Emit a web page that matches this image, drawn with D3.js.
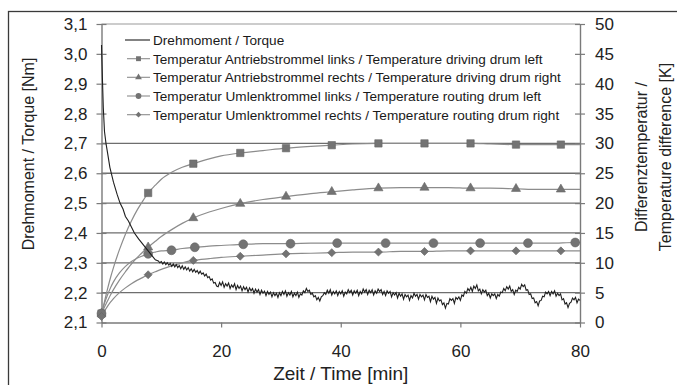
<!DOCTYPE html>
<html><head><meta charset="utf-8">
<script src="https://cdn.jsdelivr.net/npm/d3@7"></script>
<style>
html,body{margin:0;padding:0;background:#fff;}
svg{display:block;font-family:"Liberation Sans",Arial,sans-serif;}
</style></head>
<body><svg id="c" width="677" height="385"></svg>
<script>
// ---------- DATA ----------
const xTicks = [0, 20, 40, 60, 80];
const leftTicks = [2.1, 2.2, 2.3, 2.4, 2.5, 2.6, 2.7, 2.8, 2.9, 3.0, 3.1];
const rightTicks = [0, 5, 10, 15, 20, 25, 30, 35, 40, 45, 50];
const gridValues = [2.2, 2.3, 2.4, 2.5, 2.6, 2.7];

// torque: start-up phase (irregular times)
const torqueStartT = [0, 0.15, 0.3, 0.5, 0.75, 1.0, 1.4, 2.0, 2.6, 3.1, 3.6, 4.0, 4.5, 5.0, 5.5, 6.2, 7.0, 7.8, 8.4, 9.0];
const torqueStartV = [3.03, 2.92, 2.82, 2.74, 2.70, 2.67, 2.62, 2.57, 2.53, 2.50, 2.48, 2.455, 2.44, 2.42, 2.40, 2.38, 2.36, 2.34, 2.325, 2.31];
// torque: sampled readings every 0.25 min from 9.5 min to 80 min
const torqueSampleStart = 9.5, torqueSampleStep = 0.25;
const torqueSampled = [
  2.306, 2.300, 2.304, 2.296, 2.303, 2.294, 2.300, 2.292, 2.298, 2.288, 2.296, 2.286, 2.294, 2.284, 2.291, 2.280, 2.290, 2.278, 2.286, 2.276,
  2.284, 2.272, 2.280, 2.270, 2.278, 2.268, 2.274, 2.264, 2.272, 2.262, 2.266, 2.256, 2.262, 2.250, 2.254, 2.242, 2.246, 2.232, 2.234, 2.222,
  2.220, 2.234, 2.224, 2.236, 2.218, 2.230, 2.222, 2.232, 2.214, 2.226, 2.218, 2.230, 2.210, 2.224, 2.214, 2.222, 2.206, 2.220, 2.210, 2.218,
  2.202, 2.216, 2.206, 2.214, 2.198, 2.212, 2.202, 2.210, 2.194, 2.208, 2.198, 2.205, 2.190, 2.204, 2.194, 2.202, 2.186, 2.200, 2.190, 2.198,
  2.184, 2.200, 2.190, 2.204, 2.194, 2.206, 2.188, 2.200, 2.192, 2.204, 2.186, 2.198, 2.190, 2.202, 2.184, 2.196, 2.192, 2.206, 2.200, 2.214,
  2.204, 2.208, 2.194, 2.198, 2.186, 2.190, 2.176, 2.184, 2.172, 2.186, 2.190, 2.200, 2.194, 2.208, 2.198, 2.210, 2.192, 2.204, 2.196, 2.206,
  2.190, 2.204, 2.196, 2.206, 2.188, 2.202, 2.196, 2.210, 2.200, 2.208, 2.192, 2.206, 2.198, 2.208, 2.190, 2.204, 2.196, 2.212, 2.202, 2.210,
  2.194, 2.208, 2.200, 2.210, 2.192, 2.206, 2.198, 2.212, 2.204, 2.210, 2.194, 2.204, 2.190, 2.206, 2.198, 2.204, 2.186, 2.200, 2.192, 2.200,
  2.182, 2.198, 2.188, 2.196, 2.178, 2.194, 2.186, 2.192, 2.174, 2.190, 2.182, 2.198, 2.188, 2.194, 2.178, 2.194, 2.186, 2.192, 2.176, 2.194,
  2.184, 2.188, 2.170, 2.188, 2.178, 2.184, 2.164, 2.182, 2.172, 2.176, 2.160, 2.166, 2.148, 2.164, 2.162, 2.180, 2.174, 2.180, 2.164, 2.184,
  2.178, 2.186, 2.174, 2.192, 2.188, 2.204, 2.198, 2.214, 2.206, 2.218, 2.204, 2.222, 2.214, 2.226, 2.206, 2.212, 2.196, 2.210, 2.202, 2.208,
  2.190, 2.198, 2.182, 2.196, 2.190, 2.196, 2.180, 2.194, 2.188, 2.202, 2.200, 2.214, 2.206, 2.220, 2.212, 2.222, 2.204, 2.210, 2.194, 2.208,
  2.204, 2.218, 2.212, 2.228, 2.220, 2.226, 2.208, 2.210, 2.194, 2.196, 2.180, 2.182, 2.166, 2.170, 2.156, 2.172, 2.174, 2.188, 2.186, 2.202,
  2.196, 2.204, 2.190, 2.204, 2.196, 2.206, 2.188, 2.198, 2.190, 2.196, 2.176, 2.180, 2.162, 2.166, 2.150, 2.164, 2.168, 2.182, 2.176, 2.184,
  2.166, 2.178, 2.174];

// Temperatur Antriebstrommel links (square)
const drivingLeftT = [0, 0.5, 1, 1.5, 2, 3, 4, 5, 6, 7, 7.8, 9, 10, 11.8, 13.5, 15.35, 18, 20, 23.2, 27, 30.85, 35, 38.5, 42, 46.3, 50, 54, 58, 61.7, 65, 69.3, 73, 76.8, 80];
const drivingLeftK = [1.5, 3.5, 5.6, 7.5, 9.2, 12.2, 14.8, 17.0, 18.9, 20.5, 21.7, 23.0, 24.0, 25.2, 26.0, 26.6, 27.4, 27.9, 28.4, 28.8, 29.2, 29.5, 29.7, 29.9, 30.0, 30.0, 30.0, 30.0, 30.0, 29.9, 29.8, 29.8, 29.8, 29.8];
const drivingLeftMarks = [0, 7.8, 15.35, 23.2, 30.85, 38.5, 46.3, 54, 61.7, 69.3, 76.8];

// Temperatur Antriebstrommel rechts (triangle)
const drivingRightT = drivingLeftT;
const drivingRightK = [1.5, 2.6, 3.6, 4.6, 5.5, 7.1, 8.5, 9.8, 10.9, 11.9, 12.6, 13.6, 14.4, 15.6, 16.6, 17.5, 18.5, 19.1, 19.9, 20.6, 21.1, 21.6, 21.9, 22.2, 22.5, 22.6, 22.6, 22.6, 22.5, 22.5, 22.4, 22.3, 22.3, 22.3];
const drivingRightMarks = [0, 7.8, 15.35, 23.2, 30.85, 38.5, 46.3, 54, 61.7, 69.3, 76.8];

// Temperatur Umlenktrommel links (circle)
const routingLeftT = [0, 0.5, 1, 1.5, 2, 3, 4, 5, 6, 7, 7.8, 9, 10, 11.7, 13.5, 15.6, 18, 20, 23.7, 27, 31.6, 35, 39.4, 43, 47.5, 51, 55.5, 59, 63.3, 67, 71.3, 75, 79.2, 80];
const routingLeftK = [1.5, 3.2, 4.6, 5.8, 6.8, 8.3, 9.4, 10.2, 10.8, 11.2, 11.5, 11.8, 12.0, 12.1, 12.4, 12.6, 12.8, 12.9, 13.1, 13.2, 13.2, 13.3, 13.3, 13.3, 13.3, 13.3, 13.3, 13.3, 13.3, 13.3, 13.3, 13.3, 13.4, 13.4];
const routingLeftMarks = [0, 7.8, 11.7, 15.6, 23.7, 31.6, 39.4, 47.5, 55.5, 63.3, 71.3, 79.2];

// Temperatur Umlenktrommel rechts (diamond)
const routingRightT = drivingLeftT;
const routingRightK = [1.0, 1.9, 2.7, 3.4, 4.0, 5.0, 5.8, 6.5, 7.1, 7.6, 8.0, 8.5, 8.9, 9.5, 10.0, 10.4, 10.7, 10.9, 11.1, 11.3, 11.5, 11.6, 11.7, 11.8, 11.8, 11.9, 11.9, 12.0, 12.0, 12.0, 12.0, 12.0, 12.0, 12.0];
const routingRightMarks = [0, 7.8, 15.35, 23.2, 30.85, 38.5, 46.3, 54, 61.7, 69.3, 76.8];

const legendLabels = [
  "Drehmoment / Torque",
  "Temperatur Antriebstrommel links / Temperature driving drum left",
  "Temperatur Antriebstrommel rechts / Temperature driving drum right",
  "Temperatur Umlenktrommel links / Temperature routing drum left",
  "Temperatur Umlenktrommel rechts / Temperature routing drum right"
];
const xTitle = "Zeit / Time [min]";
const yLeftTitle = "Drehmoment / Torque [Nm]";
const yRightTitle = ["Differenztemperatur /", "Temperature difference [K]"];

// ---------- CHART ----------
const svg = d3.select("#c");
const x = d3.scaleLinear().domain([0, 80]).range([101.5, 580]);
const yL = d3.scaleLinear().domain([2.1, 3.1]).range([322.5, 24]);
const yR = d3.scaleLinear().domain([0, 50]).range([322.5, 24]);

const axisCol = "#7a7a7a", gridCol = "#6e6e6e", serCol = "#8c8c8c", markCol = "#737373";

// outer frame
svg.append("rect").attr("x", 8.5).attr("y", 11.5).attr("width", 700).attr("height", 400)
  .attr("fill", "none").attr("stroke", "#3a3a3a").attr("stroke-width", 1.3);

// grid
svg.append("g").selectAll("line").data(gridValues).join("line")
  .attr("x1", x(0)).attr("x2", x(80)).attr("y1", d => yL(d)).attr("y2", d => yL(d))
  .attr("stroke", gridCol).attr("stroke-width", 1.3);

// top border
svg.append("line").attr("x1", x(0)).attr("x2", x(80)).attr("y1", yL(3.1)).attr("y2", yL(3.1))
  .attr("stroke", "#999").attr("stroke-width", 1.2);

const fmt = d => d3.format(".1f")(d).replace(".", ",");
const fs = 17;

const gL = svg.append("g").attr("transform", `translate(${x(0)},0)`)
  .call(d3.axisLeft(yL).tickValues(leftTicks).tickFormat(fmt).tickSizeInner(5).tickSizeOuter(0).tickPadding(9));
const gR = svg.append("g").attr("transform", `translate(${x(80)},0)`)
  .call(d3.axisRight(yR).tickValues(rightTicks).tickFormat(d3.format("d")).tickSizeInner(5).tickSizeOuter(0).tickPadding(10));
const gB = svg.append("g").attr("transform", `translate(0,${yL(2.1)})`)
  .call(d3.axisBottom(x).tickValues(xTicks).tickFormat(d3.format("d")).tickSizeInner(5).tickSizeOuter(0).tickPadding(17));

[gL, gR].forEach(g => g.selectAll(".tick line").attr("x1", -5).attr("x2", 5));
[gL, gR, gB].forEach(g => {
  g.select(".domain").attr("stroke", axisCol).attr("stroke-width", 1.4);
  g.selectAll(".tick line").attr("stroke", axisCol).attr("stroke-width", 1.2);
  g.selectAll(".tick text").attr("fill", "#222").attr("font-size", fs).attr("font-family", "Liberation Sans, Arial, sans-serif");
});

// series
const lineK = d3.line().x(d => x(d[0])).y(d => yR(d[1])).curve(d3.curveMonotoneX);
const series = [
  {t: drivingLeftT, v: drivingLeftK, m: drivingLeftMarks, sym: d3.symbolSquare, size: 54, rot: 0},
  {t: drivingRightT, v: drivingRightK, m: drivingRightMarks, sym: d3.symbolTriangle, size: 36, rot: 0},
  {t: routingLeftT, v: routingLeftK, m: routingLeftMarks, sym: d3.symbolCircle, size: 62, rot: 0},
  {t: routingRightT, v: routingRightK, m: routingRightMarks, sym: d3.symbolSquare, size: 32, rot: 45}
];
series.forEach(s => {
  const pts = s.t.map((t, i) => [t, s.v[i]]);
  svg.append("path").datum(pts).attr("d", lineK).attr("fill", "none")
    .attr("stroke", serCol).attr("stroke-width", 1.2);
});
series.forEach(s => {
  const pts = s.t.map((t, i) => [t, s.v[i]]).filter(p => s.m.includes(p[0]));
  svg.append("g").selectAll("path").data(pts).join("path")
    .attr("transform", d => `translate(${x(d[0])},${yR(d[1])}) rotate(${s.rot})`)
    .attr("d", d3.symbol(s.sym, s.size)).attr("fill", markCol).attr("stroke", "#666").attr("stroke-width", 0.6);
});

// torque
const torquePts = torqueStartT.map((t, i) => [t, torqueStartV[i]])
  .concat(torqueSampled.map((v, i) => [torqueSampleStart + i * torqueSampleStep, v]));
svg.append("path").datum(torquePts)
  .attr("d", d3.line().x(d => x(d[0])).y(d => yL(d[1])))
  .attr("fill", "none").attr("stroke", "#1e1e1e").attr("stroke-width", 1.1);

// titles
svg.append("text").attr("x", x(40)).attr("y", 380).attr("text-anchor", "middle")
  .attr("font-size", 19).attr("fill", "#222").text(xTitle);
svg.append("text").attr("transform", "translate(33.5,154) rotate(-90)").attr("text-anchor", "middle")
  .attr("font-size", 16).attr("fill", "#222").text(yLeftTitle);
svg.append("text").attr("transform", "translate(647,157) rotate(-90)").attr("text-anchor", "middle")
  .attr("font-size", 16).attr("fill", "#222").text(yRightTitle[0]);
svg.append("text").attr("transform", "translate(671,157) rotate(-90)").attr("text-anchor", "middle")
  .attr("font-size", 16).attr("fill", "#222").text(yRightTitle[1]);

// legend
const legY = [40, 58.7, 77.3, 96, 114.7];
const legSyms = [null, [d3.symbolSquare, 24, 0], [d3.symbolTriangle, 20, 0], [d3.symbolCircle, 26, 0], [d3.symbolSquare, 16, 45]];
const leg = svg.append("g");
legendLabels.forEach((lab, i) => {
  const y = legY[i];
  leg.append("line").attr("x1", i === 0 ? 125 : 127).attr("x2", 150).attr("y1", y).attr("y2", y)
    .attr("stroke", i === 0 ? "#1e1e1e" : serCol).attr("stroke-width", 1.1);
  if (legSyms[i]) {
    leg.append("path").attr("transform", `translate(138.5,${y}) rotate(${legSyms[i][2]})`)
      .attr("d", d3.symbol(legSyms[i][0], legSyms[i][1])).attr("fill", markCol);
  }
  leg.append("text").attr("x", 153).attr("y", y + 4.8).attr("font-size", 13.6).attr("fill", "#1a1a1a").text(lab);
});
</script>
</body></html>
